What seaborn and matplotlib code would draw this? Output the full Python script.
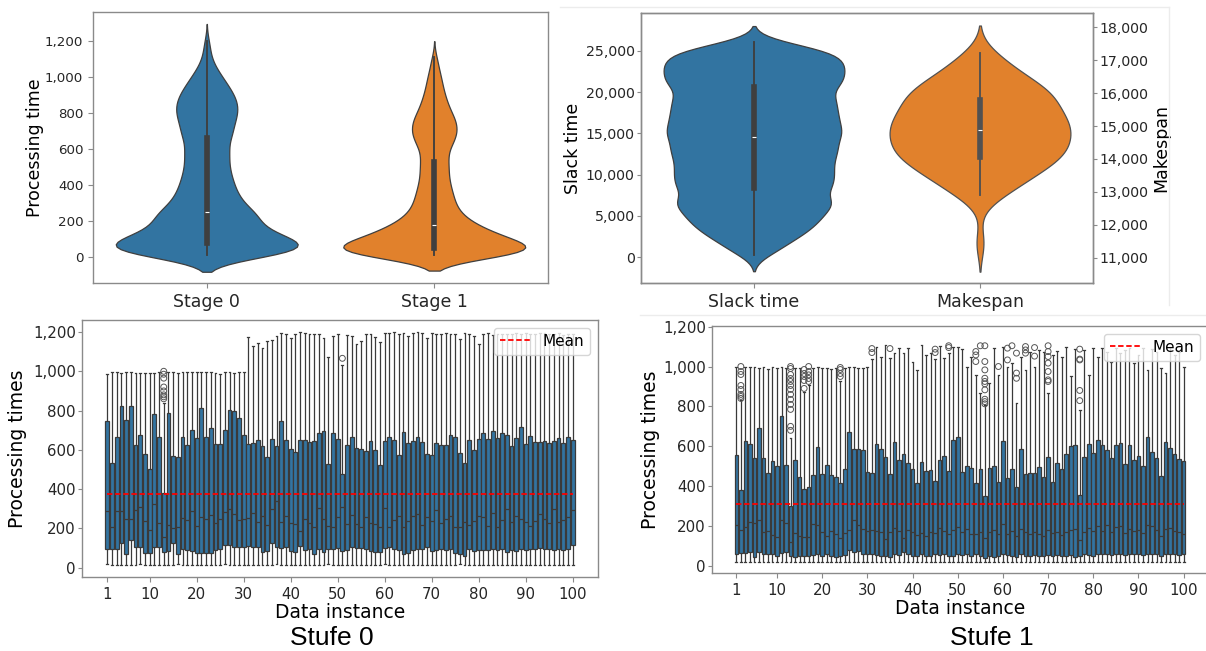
import numpy as np
import pandas as pd
import matplotlib
matplotlib.use("Agg")
import matplotlib.pyplot as plt
from matplotlib.lines import Line2D
from matplotlib.ticker import StrMethodFormatter, MultipleLocator
import seaborn as sns

# ---- top left: processing time per stage (value grid + counts)
s0_vals = [12, 45, 80, 120, 165, 210, 250, 300, 350, 400, 450, 500, 550, 600, 660,
           710, 760, 810, 860, 910, 960, 1010, 1060, 1110, 1160, 1200]
s0_cnts = [60, 75, 75, 60, 50, 42, 44, 36, 30, 27, 24, 22, 21, 24, 26,
           25, 28, 31, 30, 26, 20, 14, 8, 4, 3, 2]
s1_vals = [12, 48, 85, 130, 176, 230, 290, 350, 410, 470, 525, 580, 640, 700, 760,
           820, 880, 940, 1000, 1060, 1111]
s1_cnts = [65, 70, 60, 48, 36, 28, 22, 19, 16, 14, 13, 13, 20, 24, 22,
           16, 12, 9, 7, 4, 2]

# ---- top right: slack time and makespan
slack_vals = [243, 1000, 2000, 3000, 4000, 5000, 6000, 7000, 8337, 9500, 10500, 11500,
              12500, 13500, 14563, 15500, 16500, 17500, 18500, 19500, 20594, 21500,
              22500, 23500, 24500, 25300, 26056]
slack_cnts = [12, 25, 40, 55, 65, 72, 78, 95, 102, 89, 81, 83,
              85, 91, 90, 88, 89, 87, 85, 88, 83, 90,
              95, 95, 85, 55, 18]
mk_vals = [11420, 11460, 12900, 13300, 13700, 14070, 14450, 14870, 15300, 15790,
           16200, 16600, 17000, 17210]
mk_cnts = [1, 1, 6, 10, 14, 18, 20, 22, 22, 20, 15, 9, 5, 2]
metrics = ["Slack time", "Makespan"]

# ---- bottom: box statistics per data instance
instances = list(range(1, 101))
tick_labels = [1, 10, 20, 30, 40, 50, 60, 70, 80, 90, 100]

s0_q3 = [747, 531, 664, 823, 750, 823, 623, 676, 579, 504,
         784, 667, 382, 790, 570, 564, 665, 623, 701, 659,
         813, 664, 710, 628, 628, 700, 803, 798, 764, 676,
         630, 635, 650, 620, 565, 655, 620, 745, 650, 605,
         590, 650, 650, 640, 645, 684, 698, 526, 684, 654,
         475, 626, 664, 611, 606, 594, 645, 598, 525, 647,
         667, 650, 576, 691, 637, 647, 667, 638, 579, 572,
         633, 626, 623, 674, 667, 582, 531, 650, 599, 654,
         684, 657, 696, 659, 684, 676, 620, 659, 715, 630,
         671, 640, 640, 643, 633, 647, 659, 637, 664, 650]
s0_med = [289, 207, 290, 290, 246, 246, 294, 311, 239, 192,
          324, 226, 158, 217, 200, 205, 252, 245, 290, 215,
          260, 246, 270, 226, 246, 282, 299, 272, 243, 250,
          255, 280, 235, 262, 220, 300, 340, 232, 262, 228,
          225, 185, 250, 230, 210, 305, 250, 214, 206, 260,
          310, 222, 270, 222, 206, 258, 226, 222, 208, 302,
          208, 245, 262, 208, 240, 263, 275, 216, 258, 240,
          296, 228, 250, 265, 208, 210, 232, 218, 240, 265,
          260, 212, 278, 210, 245, 300, 232, 266, 250, 235,
          213, 240, 272, 246, 228, 300, 234, 242, 260, 295]
s0_q1 = [93, 93, 95, 124, 68, 141, 104, 106, 76, 73,
         104, 104, 81, 87, 124, 68, 95, 90, 83, 76,
         73, 73, 76, 90, 93, 115, 115, 106, 104, 104,
         110, 108, 108, 78, 84, 125, 104, 100, 104, 85,
         80, 110, 88, 96, 70, 96, 82, 98, 94, 100,
         86, 90, 104, 100, 102, 96, 85, 80, 78, 100,
         104, 96, 90, 70, 76, 88, 95, 98, 104, 86,
         88, 94, 90, 93, 76, 68, 60, 98, 87, 92,
         88, 90, 98, 92, 94, 80, 88, 86, 96, 92,
         98, 96, 100, 94, 95, 90, 98, 92, 94, 115]
s0_hi = [985, 998, 998, 990, 998, 998, 992, 990, 990, 993,
         990, 995, 840, 995, 995, 990, 998, 998, 998, 996,
         995, 998, 998, 990, 985, 995, 995, 990, 998, 998,
         1172, 1130, 1142, 1118, 1152, 1160, 1178, 1195, 1190, 1168,
         1188, 1198, 1195, 1192, 1192, 1190, 1170, 1075, 1180, 1190,
         1030, 1185, 1182, 1140, 1155, 1192, 1192, 1175, 1150, 1195,
         1196, 1198, 1190, 1195, 1180, 1195, 1198, 1195, 1170, 1195,
         1192, 1190, 1195, 1190, 1192, 1165, 1195, 1188, 1180, 1140,
         1192, 1195, 1186, 1192, 1190, 1188, 1192, 1196, 1190, 1195,
         1192, 1190, 1195, 1196, 1188, 1192, 1195, 1186, 1192, 1190]
s0_lo = [17, 15, 14, 15, 16, 14, 15, 17, 15, 14,
         15, 16, 15, 14, 15, 17, 15, 14, 16, 15,
         15, 14, 16, 15, 15, 17, 14, 15, 16, 15,
         14, 15, 16, 15, 14, 15, 17, 15, 16, 14,
         15, 15, 14, 16, 15, 15, 14, 17, 15, 16,
         15, 14, 15, 16, 15, 14, 15, 16, 15, 17,
         14, 15, 16, 15, 15, 14, 16, 15, 15, 14,
         15, 16, 15, 14, 15, 17, 15, 16, 15, 14,
         15, 15, 16, 14, 15, 15, 14, 16, 15, 15,
         14, 15, 16, 15, 15, 14, 15, 16, 15, 15]
s0_out_inst = [13, 13, 13, 13, 13, 13, 13, 13, 51]
s0_out_val = [1000, 985, 965, 920, 900, 880, 870, 860, 1066]
s0_mean = 374

s1_q3 = [557, 381, 625, 610, 543, 694, 543, 467, 527, 502,
         754, 507, 299, 532, 448, 386, 395, 457, 595, 460,
         508, 458, 448, 416, 485, 671, 587, 587, 582, 470,
         465, 612, 585, 548, 462, 620, 532, 560, 518, 488,
         415, 523, 478, 482, 425, 532, 553, 477, 632, 649,
         472, 502, 493, 418, 485, 351, 490, 502, 420, 627,
         443, 485, 398, 585, 463, 465, 467, 497, 445, 545,
         420, 515, 488, 562, 602, 605, 355, 548, 610, 565,
         630, 607, 582, 543, 609, 615, 513, 607, 533, 553,
         503, 649, 570, 542, 452, 622, 590, 562, 535, 528]
s1_med = [206, 181, 197, 222, 214, 231, 172, 175, 156, 147,
          230, 214, 122, 165, 148, 145, 147, 210, 208, 168,
          150, 178, 158, 138, 165, 180, 230, 205, 188, 175,
          182, 178, 170, 135, 168, 192, 176, 140, 180, 170,
          155, 165, 150, 172, 165, 190, 175, 160, 180, 195,
          168, 185, 160, 158, 170, 140, 172, 182, 160, 210,
          160, 175, 150, 185, 168, 162, 170, 160, 150, 180,
          165, 172, 155, 170, 180, 185, 130, 170, 190, 175,
          200, 178, 205, 168, 195, 200, 165, 185, 178, 182,
          165, 205, 200, 180, 150, 185, 190, 175, 172, 160]
s1_q1 = [58, 65, 65, 70, 45, 72, 62, 62, 58, 48,
         65, 70, 48, 45, 50, 50, 48, 55, 60, 48,
         60, 52, 45, 52, 55, 80, 68, 75, 62, 60,
         58, 55, 50, 48, 45, 62, 55, 68, 60, 52,
         48, 58, 52, 50, 58, 55, 60, 48, 52, 60,
         55, 58, 50, 60, 48, 42, 50, 45, 52, 62,
         55, 50, 45, 58, 52, 50, 55, 48, 52, 55,
         50, 55, 52, 48, 55, 45, 50, 58, 55, 52,
         60, 58, 62, 55, 58, 62, 55, 60, 58, 62,
         55, 62, 58, 60, 52, 58, 62, 58, 55, 62]
s1_hi = [1000, 830, 1000, 1000, 995, 992, 995, 985, 998, 990,
         995, 992, 640, 993, 990, 870, 905, 992, 995, 990,
         990, 988, 992, 925, 990, 995, 995, 992, 990, 995,
         1037, 1097, 1050, 1109, 1045, 1067, 1092, 1070, 1092, 1025,
         983, 1109, 1058, 1070, 1040, 1104, 1042, 1067, 1097, 1097,
         1087, 1000, 1050, 958, 866, 808, 916, 1092, 958, 1100,
         1000, 1020, 816, 1050, 983, 1075, 1000, 1083, 1075, 866,
         1058, 1080, 1050, 1097, 950, 1087, 783, 1083, 958, 1092,
         1050, 1092, 1075, 1025, 1092, 1067, 1083, 1092, 1017, 1058,
         1092, 983, 1087, 1075, 992, 967, 1100, 1058, 1075, 1000]
s1_lo = [20, 18, 22, 19, 20, 21, 18, 20, 22, 19,
         20, 21, 19, 18, 20, 22, 20, 19, 21, 20,
         19, 20, 22, 18, 20, 21, 19, 20, 20, 22,
         18, 20, 21, 19, 20, 22, 20, 18, 21, 20,
         19, 20, 22, 20, 19, 21, 18, 20, 20, 22,
         19, 20, 21, 18, 20, 22, 19, 20, 21, 20,
         18, 20, 22, 19, 20, 21, 20, 18, 20, 22,
         19, 20, 21, 20, 18, 20, 22, 19, 20, 21,
         20, 18, 20, 22, 19, 20, 21, 20, 18, 20,
         22, 19, 20, 21, 20, 18, 20, 22, 19, 20]
s1_out_inst = ([2] * 8 + [13] * 13 + [16] * 5 + [17] * 5 + [24] * 4 + [31, 31, 35]
               + [45, 45, 48, 48, 54, 54, 54, 55] + [56] * 10 + [59, 61, 61, 62]
               + [63, 63, 63, 65, 65, 65, 67, 67] + [70] * 7 + [77] * 5)
s1_out_val = ([1000, 975, 960, 905, 885, 860, 850, 840]
              + [1000, 990, 960, 940, 925, 905, 885, 860, 835, 810, 785, 700, 680]
              + [985, 965, 950, 930, 890] + [1000, 975, 958, 940, 925]
              + [995, 985, 965, 950] + [1090, 1070, 1090]
              + [1087, 1070, 1104, 1095, 1075, 1058, 1025, 1104]
              + [1104, 1025, 983, 941, 925, 913, 883, 836, 824, 813]
              + [1000, 1092, 1033, 1104]
              + [1067, 967, 941, 1100, 1083, 1067, 1095, 1052]
              + [1104, 1075, 1050, 1017, 975, 933, 925]
              + [1087, 1037, 1033, 880, 829])
s1_mean = 309


def box_long(lo, q1, med, q3, hi):
    stats = np.column_stack([lo, q1, med, q3, hi])
    return pd.DataFrame({"instance": np.repeat(instances, 5), "time": stats.ravel()})


def frame(ax):
    for sp in ax.spines.values():
        sp.set_color("#8a8a8a")
        sp.set_linewidth(1)
    ax.tick_params(color="#8a8a8a", labelcolor="#262626")


W, H = 1206, 651
fig = plt.figure(figsize=(W / 100, H / 100), dpi=100)


def px_axes(left, top, right, bottom):
    return fig.add_axes([left / W, 1 - bottom / H, (right - left) / W, (bottom - top) / H])


fmt = StrMethodFormatter("{x:,.0f}")

# top left
ax = px_axes(93, 12, 548, 283)
pt = pd.DataFrame({
    "stage": ["Stage 0"] * sum(s0_cnts) + ["Stage 1"] * sum(s1_cnts),
    "time": np.concatenate([np.repeat(s0_vals, s0_cnts), np.repeat(s1_vals, s1_cnts)]),
})
sns.violinplot(data=pt, x="stage", y="time", hue="stage", palette=["C0", "C1"],
               density_norm="width", bw_method=0.145, linewidth=0.9, legend=False, ax=ax)
ax.set_ylim(-144, 1360)
ax.yaxis.set_major_formatter(fmt)
ax.set_xlabel("")
ax.set_ylabel("Processing time", fontsize=12.5, labelpad=1)
ax.tick_params(axis="y", labelsize=9.6)
ax.tick_params(axis="x", labelsize=12.5)
frame(ax)

# top right
ax_s = px_axes(641, 13, 1093, 283)
slack = pd.DataFrame({"metric": "Slack time", "value": np.repeat(slack_vals, slack_cnts)})
mk = pd.DataFrame({"metric": "Makespan", "value": np.repeat(mk_vals, mk_cnts)})
sns.violinplot(data=slack, x="metric", y="value", order=metrics, color="C0",
               bw_method=0.14, linewidth=0.9, ax=ax_s)
ax_m = ax_s.twinx()
sns.violinplot(data=mk, x="metric", y="value", order=metrics, color="C1",
               bw_method=0.37, linewidth=0.9, ax=ax_m)
ax_s.set_ylim(-3120, 29575)
ax_m.set_ylim(10231, 18435)
ax_m.yaxis.set_major_locator(MultipleLocator(1000))
for a, lab in ((ax_s, "Slack time"), (ax_m, "Makespan")):
    a.yaxis.set_major_formatter(fmt)
    a.set_xlabel("")
    a.set_ylabel(lab, fontsize=12.5, labelpad=3)
    a.tick_params(axis="y", labelsize=10.2, length=3, pad=1.5)
    a.tick_params(axis="x", labelsize=12.5)
    frame(a)

# bottom panels
panels = [
    ((82, 320, 598, 577), (-47, 1261), (s0_lo, s0_q1, s0_med, s0_q3, s0_hi),
     s0_out_inst, s0_out_val, s0_mean, "Stufe 0", 332, 4),
    ((712, 326, 1208, 573), (-35, 1203), (s1_lo, s1_q1, s1_med, s1_q3, s1_hi),
     s1_out_inst, s1_out_val, s1_mean, "Stufe 1", 992, 2),
]
for box, ylim, stats, o_inst, o_val, mean, caption, cx, lpad in panels:
    ax = px_axes(*box)
    df = box_long(*stats)
    sns.boxplot(data=df, x="instance", y="time", native_scale=True, whis=(0, 100),
                color="C0", linecolor="#3a3a3a", linewidth=0.9, width=0.8,
                showfliers=False, ax=ax)
    sns.scatterplot(x=o_inst, y=o_val, marker="o", s=18, color="#555555",
                    facecolor="none", edgecolor="#555555", linewidth=0.7,
                    zorder=3, legend=False, ax=ax)
    sns.lineplot(x=[instances[0], instances[-1]], y=[mean, mean], color="red",
                 linestyle=(0, (3, 1.5)), linewidth=1.3, label="Mean", ax=ax)
    ax.set_xlim(-4.39, 105.39)
    ax.set_ylim(*ylim)
    ax.set_xticks(tick_labels)
    ax.set_xticklabels([str(t) for t in tick_labels])
    ax.yaxis.set_major_formatter(fmt)
    ax.set_xlabel("Data instance", fontsize=13.5, labelpad=1)
    ax.set_ylabel("Processing times", fontsize=13.5, labelpad=lpad)
    ax.tick_params(labelsize=10.8)
    ax.tick_params(axis="y", length=3, pad=1.5)
    ax.legend(loc="upper right", fontsize=11)
    frame(ax)
    fig.text(cx / W, 1 - 638 / H, caption, ha="center", va="center",
             fontsize=19, family="Liberation Sans")

# faint borders of the pasted panels
for xs, ys in (((560, 1169), (7, 7)), ((1169, 1169), (7, 305)), ((640, 1206), (315, 315))):
    fig.add_artist(Line2D([x / W for x in xs], [1 - y / H for y in ys],
                          color="#ececec", linewidth=1, transform=fig.transFigure))

fig.savefig("out.png", dpi=100)
